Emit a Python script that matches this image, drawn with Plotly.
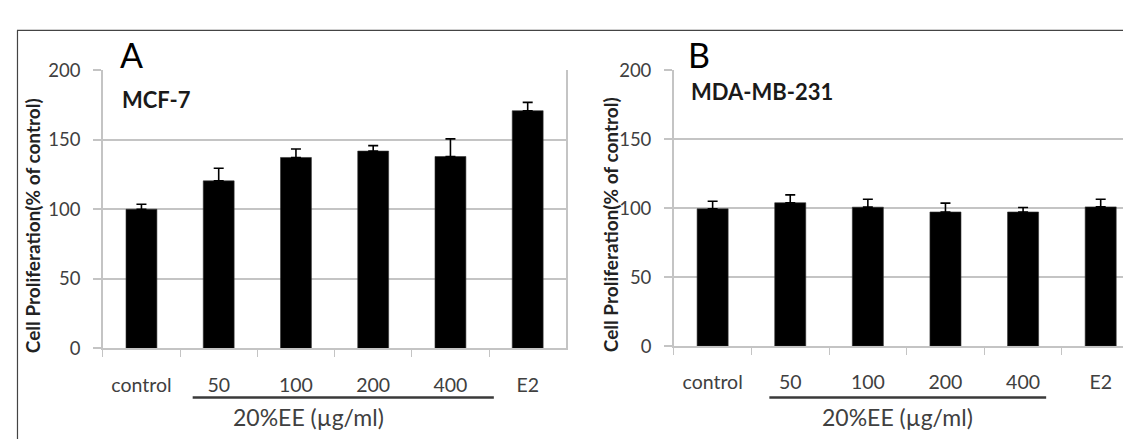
import plotly.graph_objects as go

W, H = 1131, 441

categories = ["control", "50", "100", "200", "400", "E2"]

mcf7_values = [100.0, 120.4, 137.2, 141.8, 137.9, 170.8]
mcf7_errors = [3.6, 9.1, 6.1, 3.9, 12.7, 6.0]

mda_values = [99.5, 103.9, 100.7, 97.2, 97.2, 100.9]
mda_errors = [5.5, 5.7, 5.7, 6.4, 3.3, 5.5]

y_ticks = [0, 50, 100, 150, 200]
panel_letters = ["A", "B"]
cell_lines = ["MCF-7", "MDA-MB-231"]
y_title = "Cell Proliferation(% of control)"
x_group_label = "20%EE (µg/ml)"

FONT = "Lato"
GRID = "#c4c4c4"
TXT = "#404040"


def px(x):
    return x / W


def py(y):
    return 1 - y / H


fig = go.Figure()

for i, (vals, errs) in enumerate([(mcf7_values, mcf7_errors), (mda_values, mda_errors)]):
    suffix = "" if i == 0 else "2"
    fig.add_trace(go.Bar(
        x=categories, y=vals,
        xaxis="x" + suffix, yaxis="y" + suffix,
        marker=dict(color="black", line=dict(color="#333333", width=0.6)),
        error_y=dict(type="data", array=errs, arrayminus=[0] * len(errs),
                     symmetric=False, color="black", thickness=1.6, width=5),
        showlegend=False,
    ))

xa_common = dict(
    type="category", showgrid=False, showline=True, linecolor=GRID, linewidth=1.5,
    ticks="outside", tickson="boundaries", ticklen=7, tickcolor=GRID, tickwidth=1.2,
    tickfont=dict(family=FONT, size=19.5, color=TXT), ticklabelstandoff=18,
    mirror=False, fixedrange=True,
)
ya_common = dict(
    range=[0, 200], tickvals=y_ticks, showgrid=True, gridcolor=GRID, gridwidth=1.5,
    showline=True, linecolor=GRID, linewidth=1.5, mirror=True,
    ticks="outside", ticklen=8, tickcolor=GRID, tickwidth=1.5,
    tickfont=dict(family=FONT, size=18.5, color=TXT), ticklabelstandoff=9,
    zeroline=False, fixedrange=True,
)

fig.update_layout(
    width=W, height=H,
    margin=dict(l=0, r=0, t=0, b=0),
    paper_bgcolor="white", plot_bgcolor="white",
    bargap=0.6,
    xaxis=dict(domain=[px(95), px(559.3)], range=[-0.5, 5.5], anchor="y", **xa_common),
    yaxis=dict(domain=[py(345.7), py(52.7)], anchor="x", **ya_common),
    xaxis2=dict(domain=[px(667), 1.0], range=[-0.5, 5.5 - 2.5 / 77.7], anchor="y2", **xa_common),
    yaxis2=dict(domain=[py(343.3), py(52.7)], anchor="x2", **ya_common),
)

annotations = []
shapes = []

# per-panel decorations (positions in paper pixels)
panel_layout = [
    dict(letter_x=110, cell_x=112, cell_y=84, title_x=24, title_y=216,
         line_x0=185, line_x1=486.7, label_x=301),
    dict(letter_x=679, cell_x=682, cell_y=75, title_x=603, title_y=215,
         line_x0=762.7, line_x1=1040, label_x=891.3),
]

for i, pl in enumerate(panel_layout):
    annotations.append(dict(
        text=panel_letters[i], xref="paper", yref="paper",
        x=px(pl["letter_x"]), y=py(60), xanchor="left", yanchor="bottom",
        showarrow=False, font=dict(family=FONT, size=34, color="black"),
    ))
    annotations.append(dict(
        text="<b>" + cell_lines[i] + "</b>", xref="paper", yref="paper",
        x=px(pl["cell_x"]), y=py(pl["cell_y"]), xanchor="left", yanchor="middle",
        showarrow=False, font=dict(family=FONT, size=22, color="#1a1a1a"),
    ))
    annotations.append(dict(
        text="<b>" + y_title + "</b>", xref="paper", yref="paper",
        x=px(pl["title_x"]), y=py(pl["title_y"]), xanchor="center", yanchor="middle",
        textangle=-90, showarrow=False, font=dict(family=FONT, size=19, color="#222222"),
    ))
    annotations.append(dict(
        text=x_group_label, xref="paper", yref="paper",
        x=px(pl["label_x"]), y=py(418), xanchor="center", yanchor="middle",
        showarrow=False, font=dict(family=FONT, size=23, color=TXT),
    ))
    shapes.append(dict(
        type="line", xref="paper", yref="paper",
        x0=px(pl["line_x0"]), x1=px(pl["line_x1"]), y0=py(397.3), y1=py(397.3),
        line=dict(color="#3a3a3a", width=2.5),
    ))

# outer frame (top and left edges)
shapes.append(dict(type="line", xref="paper", yref="paper",
                   x0=px(9), x1=1.0, y0=py(11), y1=py(11),
                   line=dict(color="#444444", width=1.2)))
shapes.append(dict(type="line", xref="paper", yref="paper",
                   x0=px(9.5), x1=px(9.5), y0=py(11), y1=0,
                   line=dict(color="#444444", width=1.2)))

fig.update_layout(annotations=annotations, shapes=shapes)

fig.write_html("out.html")
